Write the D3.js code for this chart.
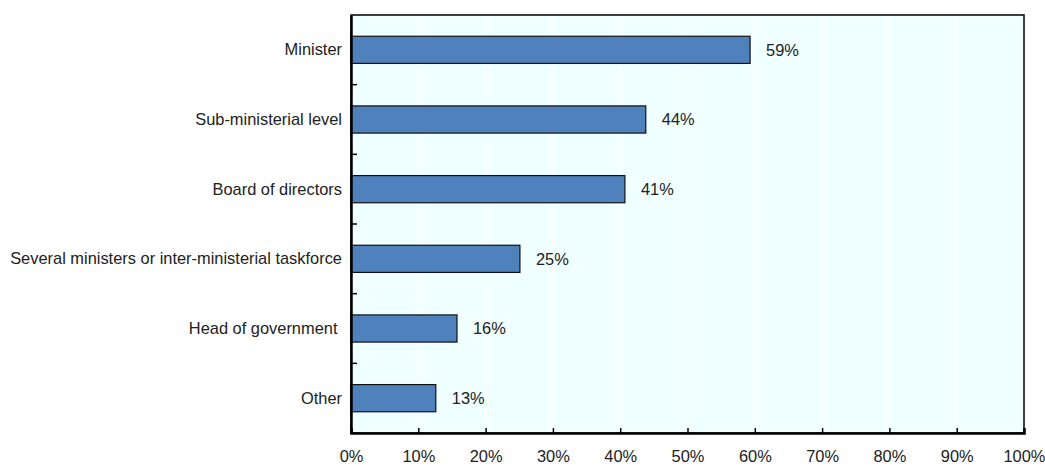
<!DOCTYPE html>
<html><head><meta charset="utf-8">
<script src="https://cdn.jsdelivr.net/npm/d3@7"></script>
<style>
body{margin:0;background:#fff;}
text{font-family:"Liberation Sans",Arial,sans-serif;font-size:17px;fill:#222;white-space:pre;}
</style></head><body>
<svg id="c" width="1045" height="466"></svg>
<script>
const categories = ["Minister","Sub-ministerial level","Board of directors","Several ministers or inter-ministerial taskforce","Head of government ","Other"];
const values = [59.3, 43.8, 40.7, 25.1, 15.75, 12.6];
const valueLabels = ["59%","44%","41%","25%","16%","13%"];
const xTicks = [0,10,20,30,40,50,60,70,80,90,100];

const svg = d3.select("#c");
const m = {left:351, top:15, right:1024, bottom:433};
const x = d3.scaleLinear().domain([0,100]).range([m.left, m.right]);
const y = d3.scaleBand().domain(categories).range([m.top, m.bottom]).paddingInner(0.61).paddingOuter(0.305);
const yb = d3.scaleBand().domain(categories).range([m.top, m.bottom]);

svg.append("rect").attr("x",m.left).attr("y",m.top).attr("width",m.right-m.left).attr("height",m.bottom-m.top).attr("fill","#f0ffff");
svg.append("g").selectAll("line").data(xTicks.slice(1,-1)).join("line")
  .attr("x1",d=>x(d)).attr("x2",d=>x(d)).attr("y1",m.top).attr("y2",m.bottom)
  .attr("stroke","#fff").attr("stroke-width",1.5);

svg.append("g").selectAll("rect").data(categories).join("rect")
  .attr("x",x(0)).attr("y",d=>y(d)).attr("width",(d,i)=>x(values[i])-x(0)).attr("height",y.bandwidth())
  .attr("fill","#4f81bd").attr("stroke","#111").attr("stroke-width",1.2);

svg.append("g").attr("class","lbl").selectAll("text").data(categories).join("text")
  .attr("x",(d,i)=>x(values[i])+16).attr("y",d=>y(d)+y.bandwidth()/2).attr("dy","0.35em")
  .text((d,i)=>valueLabels[i]);

// frame
svg.append("rect").attr("x",m.left).attr("y",m.top).attr("width",m.right-m.left).attr("height",m.bottom-m.top)
  .attr("fill","none").attr("stroke","#000").attr("stroke-width",1.5);

// x axis
const xAxis = d3.axisBottom(x).tickValues(xTicks).tickSize(-5).tickPadding(17).tickFormat(d=>d+"%");
const gx = svg.append("g").attr("transform",`translate(0,${m.bottom})`).call(xAxis);
gx.select(".domain").attr("stroke","#000").attr("stroke-width",2.5);
gx.selectAll(".tick line").attr("stroke","#000").attr("stroke-width",1.5);
gx.selectAll("text").style("font-size","17px").attr("fill","#222");

// y axis
const yAxis = d3.axisLeft(yb).tickSize(0).tickPadding(9);
const gy = svg.append("g").attr("transform",`translate(${m.left},0)`).call(yAxis);
gy.select(".domain").attr("stroke","#000").attr("stroke-width",2.5);
gy.selectAll("text").style("font-size","17px").attr("fill","#222");
// band boundary ticks
svg.append("g").selectAll("line").data(categories.slice(1)).join("line")
  .attr("x1",m.left).attr("x2",m.left+6).attr("y1",d=>yb(d)).attr("y2",d=>yb(d))
  .attr("stroke","#000").attr("stroke-width",1.5);

// condense text like the narrow reference font
svg.selectAll("text").each(function(){
  const w = this.getComputedTextLength();
  d3.select(this).attr("textLength", w*0.965).attr("lengthAdjust","spacingAndGlyphs");
});
// keep the last tick label inside the picture
gx.selectAll(".tick").filter(d=>d===100).select("text")
  .style("text-anchor","start").attr("text-anchor","start").attr("x",-21);
</script></body></html>
